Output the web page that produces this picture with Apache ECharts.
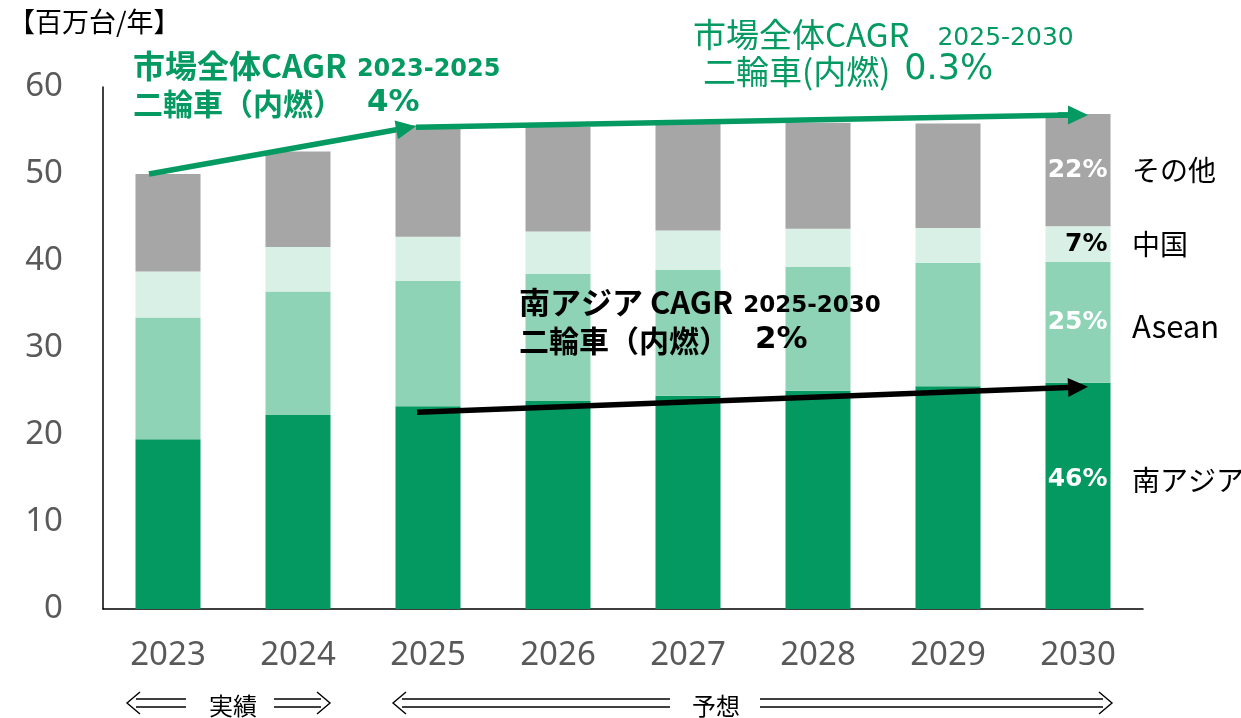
<!DOCTYPE html>
<html>
<head>
<meta charset="utf-8">
<script src="https://cdn.jsdelivr.net/npm/echarts@6/dist/echarts.min.js"></script>
<style>
  html, body { margin: 0; padding: 0; background: #fff; }
  #chart { width: 1241px; height: 718px; }
</style>
</head>
<body>
<div id="chart"></div>
<script>
// 百万台/年
const years = ['2023', '2024', '2025', '2026', '2027', '2028', '2029', '2030'];
const southAsia = [19.5, 22.3, 23.3, 23.9, 24.5, 25.1, 25.6, 26.0];
const asean = [14.0, 14.2, 14.4, 14.6, 14.5, 14.2, 14.2, 13.9];
const china = [5.3, 5.1, 5.1, 4.9, 4.5, 4.4, 4.0, 4.1];
const others = [11.2, 11.0, 12.8, 12.0, 12.3, 12.2, 12.0, 12.9];
const regionNames = ['南アジア', 'Asean', '中国', 'その他'];
const share2030 = ['46%', '25%', '7%', '22%'];
const yMax = 60;
const yStep = 10;

const GREEN = '#049a62';
const JP = 'Noto Sans CJK JP';

const chart = echarts.init(document.getElementById('chart'));
const last = years.length - 1;

function withLastLabel(values, text, color, dy) {
  return values.map((v, i) => i !== last ? v : {
    value: v,
    label: {
      show: true,
      position: 'insideRight',
      distance: 3,
      offset: [0, dy],
      formatter: text,
      color: color,
      fontFamily: 'DejaVu Sans',
      fontWeight: 'bold',
      fontSize: 25
    }
  });
}

const seriesDefs = [
  { name: regionNames[0], data: southAsia, color: '#039961', pctColor: '#fff', dy: -16 },
  { name: regionNames[1], data: asean, color: '#8ed3b6', pctColor: '#fff', dy: 0 },
  { name: regionNames[2], data: china, color: '#d9f0e7', pctColor: '#000', dy: 0 },
  { name: regionNames[3], data: others, color: '#a6a6a6', pctColor: '#fff', dy: 0 }
];

chart.setOption({
  animation: false,
  grid: { left: 103, right: 98, top: 87, bottom: 109 },
  xAxis: {
    type: 'category',
    data: years,
    axisLine: { lineStyle: { color: '#000', width: 1.5 } },
    axisTick: { show: false },
    axisLabel: { color: '#595959', fontSize: 33, fontFamily: 'Noto Sans', margin: 30 }
  },
  yAxis: {
    type: 'value',
    min: 0,
    max: yMax,
    interval: yStep,
    splitLine: { show: false },
    axisLine: { show: true, lineStyle: { color: '#000', width: 1.5 } },
    axisTick: { show: false },
    axisLabel: { color: '#595959', fontSize: 33, fontFamily: 'Noto Sans', margin: 40 }
  },
  series: seriesDefs.map((s, k) => ({
    name: s.name,
    type: 'bar',
    stack: 'total',
    barWidth: '50%',
    itemStyle: { color: s.color },
    data: withLastLabel(s.data, share2030[k], s.pctColor, s.dy)
  }))
});

// ---- annotations ----
const px = (i, v) => chart.convertToPixel({ gridIndex: 0 }, [i, v]);
const totals = years.map((_, i) => southAsia[i] + asean[i] + china[i] + others[i]);

function arrow(p1, p2, color, w, headLen, headW) {
  const ang = Math.atan2(p2[1] - p1[1], p2[0] - p1[0]);
  const c = Math.cos(ang), s = Math.sin(ang);
  const bx = p2[0] - headLen * c, by = p2[1] - headLen * s;
  return [
    { type: 'line', z: 100, shape: { x1: p1[0], y1: p1[1], x2: bx, y2: by },
      style: { stroke: color, lineWidth: w } },
    { type: 'polygon', z: 100, shape: { points: [
        [p2[0], p2[1]],
        [bx + headW / 2 * s, by - headW / 2 * c],
        [bx - headW / 2 * s, by + headW / 2 * c]
      ] }, style: { fill: color } }
  ];
}

function doubleArrow(xStart, xTip, y) {
  const dir = xTip < xStart ? 1 : -1; // from tip back toward the tail
  const g = 4, hw = 11, hl = 13;
  const els = [];
  [-g, g].forEach(d => {
    els.push({ type: 'line', z: 100, shape: { x1: xTip + dir * (hl - 4), y1: y + d, x2: xStart, y2: y + d },
      style: { stroke: '#000', lineWidth: 1.4 } });
  });
  els.push({ type: 'polyline', z: 100, shape: { points: [[xTip + dir * hl, y - hw], [xTip, y], [xTip + dir * hl, y + hw]] },
    style: { stroke: '#000', lineWidth: 1.4, fill: null } });
  return els;
}

function txt(x, y, text, opts) {
  return {
    type: 'text', x: x, y: y, z: 110,
    style: Object.assign({ text: text, fontFamily: JP, fontSize: 30, fill: '#000',
      verticalAlign: 'middle' }, opts)
  };
}

// rich style helper
function rs(size, weight, family, color, padLeft) {
  return { fontSize: size, fontWeight: weight, fontFamily: family, fill: color, color: color,
    verticalAlign: 'bottom', lineHeight: size + 6, padding: [0, 0, 0, padLeft || 0] };
}

const c2023 = px(0, totals[0]);
const c2025 = px(2, totals[2]);
const c2030 = px(last, totals[last]);
const sa2025 = px(2, southAsia[2]);
const sa2030 = px(last, southAsia[last]);

const gStart = [c2023[0] - 19, c2023[1]];
const gMid = [c2025[0] - 12, c2025[1] + 1];
const gEnd = [c2030[0] + 10, c2030[1] + 1];
const bStart = [sa2025[0] - 11, sa2025[1] + 6];
const bEnd = [sa2030[0] + 10, sa2030[1] + 4];

const graphics = [].concat(
  arrow(gStart, gMid, GREEN, 5.5, 20, 19),
  [{ type: 'line', z: 100, shape: { x1: gMid[0], y1: gMid[1] + 1, x2: gEnd[0] - 18, y2: gEnd[1] },
     style: { stroke: GREEN, lineWidth: 5.5 } }],
  arrow([gEnd[0] - 30, gEnd[1]], gEnd, GREEN, 5.5, 20, 19),
  arrow(bStart, bEnd, '#000', 5.5, 20, 19),
  doubleArrow(186, 127, 703),
  doubleArrow(274, 330, 703),
  doubleArrow(670, 393, 703),
  doubleArrow(760, 1112, 703)
);

graphics.push(
  txt(8, 22, '【百万台/年】', { fontSize: 27 }),
  txt(233, 706, '実績', { fontSize: 24, align: 'center' }),
  txt(716, 706, '予想', { fontSize: 24, align: 'center' }),

  // 2023-2025 overall
  txt(133, 63, '{a|市場全体CAGR}{b|2023-2025}', { rich: {
    a: rs(32, 'bold', JP, GREEN), b: rs(24, 'bold', 'DejaVu Sans', GREEN, 10) } }),
  txt(133, 100, '{a|二輪車（内燃）}{b|4%}', { rich: {
    a: rs(30, 'bold', JP, GREEN), b: rs(31, 'bold', 'DejaVu Sans', GREEN, 24) } }),

  // 2025-2030 overall
  txt(693, 31, '{a|市場全体CAGR}{b|2025-2030}', { rich: {
    a: rs(33, 'normal', JP, GREEN), b: rs(25, 'normal', 'DejaVu Sans', GREEN, 28) } }),
  txt(703, 67, '{a|二輪車(内燃)}{b|0.3%}', { rich: {
    a: rs(33, 'normal', JP, GREEN), b: rs(35, 'normal', 'DejaVu Sans', GREEN, 14) } }),

  // South Asia
  txt(519, 299, '{a|南アジア CAGR}{b|2025-2030}', { rich: {
    a: rs(31, 'bold', JP, '#000'), b: rs(23, 'bold', 'DejaVu Sans', '#000', 10) } }),
  txt(519, 337, '{a|二輪車（内燃）}{b|2%}', { rich: {
    a: rs(30, 'bold', JP, '#000'), b: rs(31, 'bold', 'DejaVu Sans', '#000', 26) } })
);

// region names at the right of the 2030 bar
const stacks = [southAsia, asean, china, others];
const nameSizes = [28, 31, 28, 28];
let base = 0;
stacks.forEach((arr, k) => {
  const mid = px(last, base + arr[last] / 2);
  base += arr[last];
  const dy = k === 0 ? -16 : (k === 1 ? 4 : 0);
  graphics.push(txt(1132, mid[1] + dy, regionNames[k], { fontSize: nameSizes[k] }));
});

chart.setOption({ graphic: graphics });
</script>
</body>
</html>
